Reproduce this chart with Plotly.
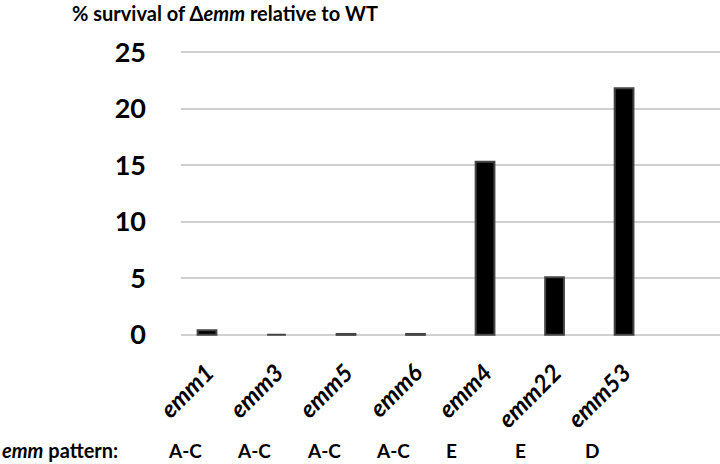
import plotly.graph_objects as go

categories = ["emm1", "emm3", "emm5", "emm6", "emm4", "emm22", "emm53"]
survival = [0.4, 0.0, 0.08, 0.08, 15.3, 5.1, 21.8]
patterns = ["A-C", "A-C", "A-C", "A-C", "E", "E", "D"]
y_ticks = [0, 5, 10, 15, 20, 25]

FONT = "Lato"
idx = list(range(len(categories)))

fig = go.Figure()
fig.add_trace(go.Bar(
    x=idx, y=survival,
    marker=dict(color="black", line=dict(color="#454545", width=2)),
    width=0.27,
))

fig.update_layout(
    width=720, height=464,
    margin=dict(l=181, r=0, t=51, b=128, autoexpand=False),
    plot_bgcolor="white", paper_bgcolor="white",
    showlegend=False,
    font=dict(family=FONT, color="black"),
    xaxis=dict(
        range=[-0.374, 7.38],
        tickmode="array", tickvals=idx,
        ticktext=[f"<b><i>{c}</i></b>" for c in categories],
        tickangle=-45, tickfont=dict(size=24, family=FONT),
        showgrid=False, zeroline=False, showline=False, ticks="",
        ticklabelstandoff=17, automargin=False,
    ),
    yaxis=dict(
        range=[-0.1, 25.1],
        tickmode="array", tickvals=y_ticks,
        ticktext=[f"<b>{v}</b>" for v in y_ticks],
        tickfont=dict(size=27, family=FONT),
        showgrid=True, gridcolor="#d0d0d0", gridwidth=2,
        zeroline=True, zerolinecolor="#d0d0d0", zerolinewidth=2,
        ticks="", ticklabelstandoff=34, automargin=False,
    ),
)

fig.add_annotation(
    text="<b>% survival of Δ<i>emm</i> relative to WT</b>",
    xref="paper", yref="paper", x=-111/539, y=1, xanchor="left", yanchor="bottom",
    yshift=24, showarrow=False, font=dict(size=20, family=FONT),
)

fig.add_annotation(
    text="<b><i>emm</i> pattern:</b>",
    xref="paper", yref="paper", x=-181/539, y=0, xanchor="left", yanchor="middle",
    yshift=-114, showarrow=False, font=dict(size=20, family=FONT),
)
for i, p in zip(idx, patterns):
    fig.add_annotation(
        text=f"<b>{p}</b>", xref="x", yref="paper", x=i - 0.35, y=0,
        xanchor="left", yanchor="middle", xshift=-17, yshift=-114, showarrow=False,
        font=dict(size=19, family=FONT),
    )

fig.write_html("out.html", config={"displayModeBar": False},
               post_script="document.body.style.margin='0';")
